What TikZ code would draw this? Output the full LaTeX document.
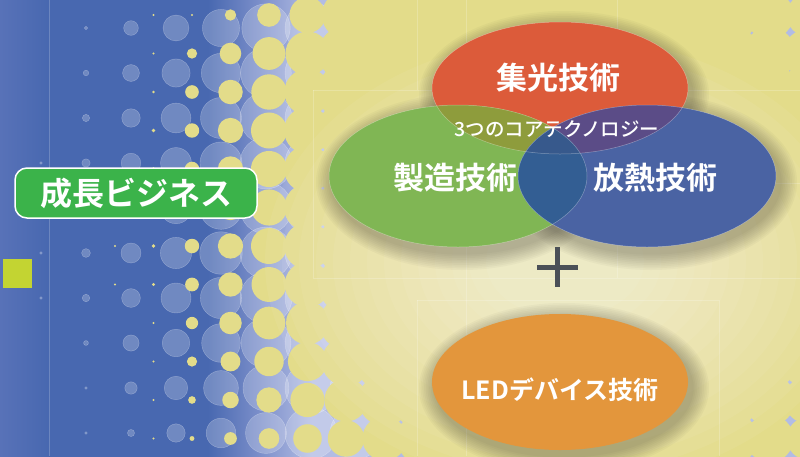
\documentclass[tikz,border=0pt]{standalone}
\usepackage{fontspec}
\newfontfamily\jp{Noto Sans CJK JP Medium}
\newfontfamily\jpb{Noto Sans CJK JP Bold}
\definecolor{bgA}{RGB}{88,114,184}
\definecolor{bgB}{RGB}{72,104,176}
\definecolor{bgM}{RGB}{120,140,200}
\definecolor{bgC}{RGB}{178,188,228}
\definecolor{dotY}{RGB}{227,220,138}
\definecolor{elR}{RGB}{220,91,58}
\definecolor{elG}{RGB}{128,182,84}
\definecolor{elB}{RGB}{74,99,163}
\definecolor{elO}{RGB}{227,150,60}
\definecolor{ovRG}{RGB}{142,156,60}
\definecolor{ovRB}{RGB}{91,76,135}
\definecolor{ovGB}{RGB}{51,94,147}
\definecolor{ovRGB}{RGB}{55,89,140}
\definecolor{boxG}{RGB}{59,179,74}
\definecolor{sqY}{RGB}{195,212,50}
\definecolor{plusC}{RGB}{75,80,87}
\pgfdeclarehorizontalshading{bgshade}{100bp}{color(0bp)=(bgA); color(25bp)=(bgA); color(28bp)=(bgB); color(38bp)=(bgB); color(41bp)=(bgM); color(44.5bp)=(bgC); color(100bp)=(bgC)}
\tikzset{
  faint/.style={white, draw opacity=0.2, line width=0.6pt},
  lab/.style={text=white, font=\jpb\fontsize{31}{31}\selectfont, inner sep=0pt},
  edge/.style={white, draw opacity=0.35, line width=0.5pt},
}
\begin{document}
\begin{tikzpicture}[x=1pt,y=-1pt]
\useasboundingbox (0,0) rectangle (800,456);
\shade[shading=bgshade] (0,0) rectangle (800,456);
% light halftone circles
\foreach \i in {0,...,7}{
 \foreach \j in {0,...,9}{
  \pgfmathsetmacro\lcx{41+45*\i}
  \pgfmathsetmacro\lcy{28+45*\j}
  \pgfmathsetmacro\lt{(\lcy-230)/210}
  \pgfmathsetmacro\lr{\lcx<50 ? (abs(\lt)<0.5 ? 1.3 : 0) : min(26,max(1.3,0.125*(\lcx-50)-(\lt>0 ? 7 : 3)*\lt*\lt))}
  \ifdim\lr pt>0.5pt
   \fill[white, fill opacity=0.22] (\lcx,\lcy) circle[radius=\lr pt];
   \draw[white, draw opacity=0.3, line width=0.4pt] (\lcx,\lcy) circle[radius=\lr pt];
  \fi
 }}
% yellow halftone circles
\foreach \i in {0,...,19}{
 \foreach \j in {-1,...,12}{
  \pgfmathsetmacro\ycx{115+38.5*\i}
  \pgfmathsetmacro\ycy{15+38.5*\j}
  \pgfmathsetmacro\yt{max(-1,min(1,(\ycy-230)/215))}
  \pgfmathsetmacro\ytb{\yt*\yt}
  \pgfmathsetmacro\ytc{\ytb*\ytb*\ytb}
  \pgfmathsetmacro\ysl{\yt<0 ? 0.14+0.02*\ytc : 0.14-0.04*\ytb}
  \pgfmathsetmacro\yxo{\yt<0 ? 140+55*\ytc : 140+30*\ytb}
  \pgfmathsetmacro\yrl{\ysl*(\ycx-\yxo)}
  \pgfmathsetmacro\ycc{max(0,min(456,\ycy))}
  \pgfmathsetmacro\ye{max(0,min(1,max(1-\ycc/120,(\ycc-300)/156)))}
  \pgfmathsetmacro\yrr{30-10*\ye*max(0,\ycx-680)/130}
  \pgfmathsetmacro\yr{\ycx<120 ? (abs(\yt)<0.3 ? 1.2 : 0) : max(1.2,min(30,min(\yrl,\yrr)))}
  \ifdim\yr pt>0.5pt
   \fill[dotY] (\ycx,\ycy) circle[radius=\yr pt];
  \fi
 }}
% central glow
\foreach \k in {0,...,13}{
  \fill[white, fill opacity=0.055] (565,262) ellipse [x radius={(300-17*\k)*1pt}, y radius={(225-13*\k)*1pt}];
}
% faint guide lines
\draw[faint] (49,0) -- (49,456);
\draw[faint] (313,90) -- (800,90);
\draw[faint] (313,278) -- (800,278);
\draw[faint] (313,90) -- (313,278);
\draw[faint] (417,0) -- (417,90);
\draw[faint] (417,300) -- (417,456);
\draw[faint] (417,300) -- (719,300);
\draw[faint] (719,300) -- (719,456);
\draw[faint] (466,0) -- (466,456);
\draw[faint] (617,0) -- (617,278);
\draw[faint] (430,183) -- (800,183);
% shadows
\foreach \k in {1,...,10}{
  \fill[black!80!olive, fill opacity=0.034] (564,94) ellipse [x radius={(128+1.7*\k)*1pt}, y radius={(66+1.7*\k)*1pt}];
  \fill[black!80!olive, fill opacity=0.034] (462,182) ellipse [x radius={(129+1.7*\k)*1pt}, y radius={(71+1.7*\k)*1pt}];
  \fill[black!80!olive, fill opacity=0.034] (651,182) ellipse [x radius={(129+1.7*\k)*1pt}, y radius={(71+1.7*\k)*1pt}];
  \fill[black!80!olive, fill opacity=0.034] (564,388) ellipse [x radius={(128+1.7*\k)*1pt}, y radius={(68+1.7*\k)*1pt}];
}
% ellipses
\fill[elR] (560,88) ellipse [x radius=128pt, y radius=66pt];
\fill[elG] (458,176) ellipse [x radius=129pt, y radius=71pt];
\fill[elB] (647,176) ellipse [x radius=129pt, y radius=71pt];
\begin{scope}
  \clip (560,88) ellipse [x radius=128pt, y radius=66pt];
  \fill[ovRG] (458,176) ellipse [x radius=129pt, y radius=71pt];
  \fill[ovRB] (647,176) ellipse [x radius=129pt, y radius=71pt];
\end{scope}
\begin{scope}
  \clip (458,176) ellipse [x radius=129pt, y radius=71pt];
  \fill[ovGB] (647,176) ellipse [x radius=129pt, y radius=71pt];
  \clip (560,88) ellipse [x radius=128pt, y radius=66pt];
  \fill[ovRGB] (647,176) ellipse [x radius=129pt, y radius=71pt];
\end{scope}
\draw[edge] (560,88) ellipse [x radius=128pt, y radius=66pt];
\draw[edge] (458,176) ellipse [x radius=129pt, y radius=71pt];
\draw[edge] (647,176) ellipse [x radius=129pt, y radius=71pt];
\fill[elO] (560,382) ellipse [x radius=128pt, y radius=68pt];
% labels
\node[lab] (shuko) at (558,78) {集光技術};
\node[lab] (seizo) at (455,178) {製造技術};
\node[lab] (hounetsu) at (655,178) {放熱技術};
\node[text=white, font=\jp\fontsize{19.5}{19.5}\selectfont, inner sep=0pt] (core) at (557,129) {3つのコアテクノロジー};
\node[lab, font=\jpb\fontsize{25}{25}\selectfont] (led) at (560,390) {LEDデバイス技術};
% plus
\draw[plusC, line width=5pt] (537,267) -- (578,267);
\draw[plusC, line width=5pt] (557.5,247) -- (557.5,287);
% growth business box
\node[draw=white, line width=1.5pt, fill=boxG, rounded corners=12pt, minimum width=242pt, minimum height=50pt, text=white, font=\jpb\fontsize{32}{32}\selectfont, inner sep=0pt] (growth) at (136,193) {成長ビジネス};
% small square
\fill[sqY] (3,259) rectangle (32,288);
\end{tikzpicture}
\end{document}
